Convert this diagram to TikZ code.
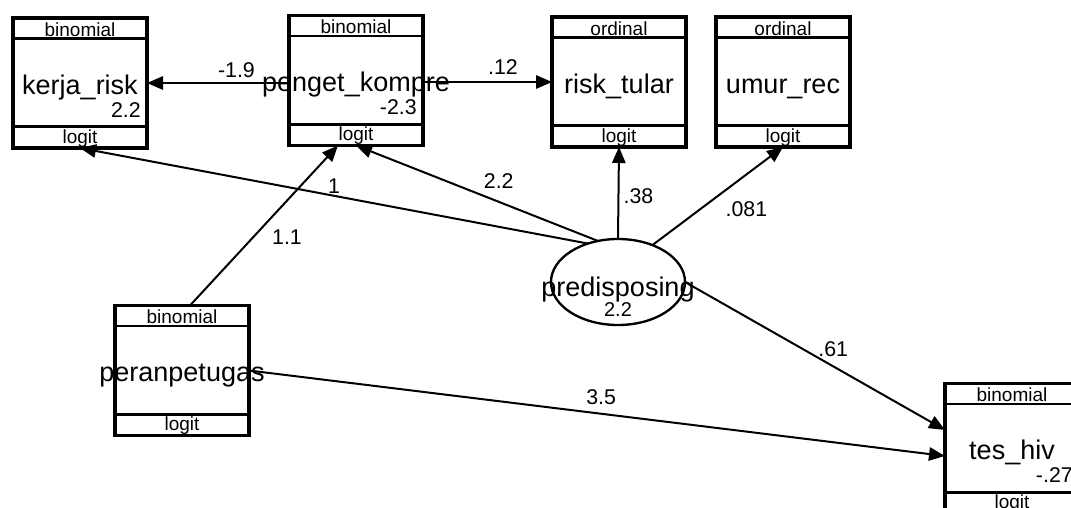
\documentclass[tikz,border=0pt]{standalone}
\usepackage{fontspec}
\setmainfont{Liberation Sans}
\usetikzlibrary{arrows.meta,shapes.geometric}

% observed variable box: name, position, family, label, value, link
\newcommand{\varbox}[6]{%
  \node[varbox] (#1) at (#2) {};
  \draw[bandline] ([yshift=-15.4pt]#1.north west) -- ([yshift=-15.4pt]#1.north east);
  \draw[bandline] ([yshift=16pt]#1.south west) -- ([yshift=16pt]#1.south east);
  \node[famtxt] (#1-top) at ([yshift=-13.5pt]#1.north) {#3};
  \node[nametxt] (#1-name) at ([yshift=-8.25pt]#1.center) {#4};
  \node[valtxt] (#1-val) at ([xshift=-4.5pt,yshift=22.9pt]#1.south east) {#5};
  \node[famtxt] (#1-bot) at ([yshift=3.4pt]#1.south) {#6};
}

\begin{document}
\begin{tikzpicture}[x=0.75pt,y=-0.75pt,
    varbox/.style={draw, line width=2.5pt, minimum width=100.5pt, minimum height=97.5pt, inner sep=0pt, outer sep=0pt},
    bandline/.style={line width=2pt},
    famtxt/.style={font=\fontsize{14.25}{16}\selectfont, anchor=base, inner sep=0pt},
    nametxt/.style={font=\fontsize{20.25}{24}\selectfont, anchor=base, inner sep=0pt},
    valtxt/.style={font=\fontsize{16}{19}\selectfont, anchor=base east, inner sep=0pt},
    latent/.style={draw, ellipse, line width=1.75pt, minimum width=100.5pt, minimum height=64.5pt, inner sep=0pt, outer sep=0pt},
    semarrow/.style={line width=1.5pt, -{Triangle[length=12pt,width=10pt]}},
    lbl/.style={font=\fontsize{16}{19}\selectfont, inner sep=0pt}]
    \useasboundingbox (0,0) rectangle (1071,507);
    \clip (0,0) rectangle (1071,507);

    \varbox{kr}{80,83}{binomial}{kerja\_risk}{2.2}{logit}
    \varbox{pk}{356,80.5}{binomial}{penget\_kompre}{-2.3}{logit}
    \varbox{rt}{619,82}{ordinal}{risk\_tular}{}{logit}
    \varbox{ur}{783,82}{ordinal}{umur\_rec}{}{logit}
    \varbox{pp}{182,370.5}{binomial}{peranpetugas}{}{logit}
    \varbox{th}{1012,448.5}{binomial}{tes\_hiv}{-.27}{logit}

    \node[latent] (pd) at (618,282) {};
    \node[nametxt] (pd-name) at ([yshift=-10.5pt]pd.center) {predisposing};
    \node[famtxt, font=\fontsize{15}{18}\selectfont] (pd-val) at ([yshift=-26pt]pd.center) {2.2};

    \draw[semarrow] (kr.east -| pk.west) -- (kr.east) node[lbl, pos=.37, yshift=9.75pt] (l-pk-kr) {-1.9};
    \draw[semarrow] (rt.west -| pk.east) -- (rt.west) node[lbl, pos=.62, yshift=11.25pt] (l-pk-rt) {.12};
    \draw[semarrow] (pd.128) -- (kr.south) node[lbl, pos=.5, yshift=7pt] (l-pd-kr) {1};
    \draw[semarrow] (pd.116) -- (pk.south) node[lbl, pos=.41, yshift=15.75pt] (l-pd-pk) {2.2};
    \draw[semarrow] (pd.north) -- (rt.south) node[lbl, pos=.47, xshift=15pt] (l-pd-rt) {.38};
    \draw[semarrow] (pd.47) -- (ur.south) node[lbl, pos=.72, yshift=-26pt] (l-pd-ur) {.081};
    \draw[semarrow] (pd.east) -- ([yshift=13.9pt]th.west) node[lbl, pos=.57, yshift=12.75pt] (l-pd-th) {.61};
    \draw[semarrow] ([xshift=6pt]pp.north) -- ([xshift=-13.5pt]pk.south) node[lbl, pos=.43, xshift=25pt] (l-pp-pk) {1.1};
    \draw[semarrow] (pp.east) -- ([yshift=-5.6pt]th.west) node[lbl, pos=.506, yshift=12.75pt] (l-pp-th) {3.5};
\end{tikzpicture}
\end{document}
